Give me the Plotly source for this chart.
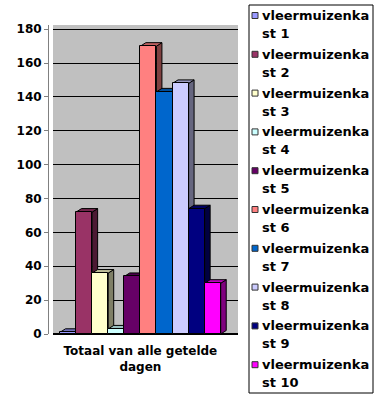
import plotly.graph_objects as go

categories = ["Totaal van alle getelde dagen"]
category_labels = ["Totaal van alle getelde<br>dagen"]
series_names = ["vleermuizenkast 1", "vleermuizenkast 2", "vleermuizenkast 3", "vleermuizenkast 4",
                "vleermuizenkast 5", "vleermuizenkast 6", "vleermuizenkast 7", "vleermuizenkast 8",
                "vleermuizenkast 9", "vleermuizenkast 10"]
legend_line1 = ["vleermuizenka"] * 10
legend_line2 = ["st 1", "st 2", "st 3", "st 4", "st 5", "st 6", "st 7", "st 8", "st 9", "st 10"]
values = [1, 72, 36, 3, 34, 170, 143, 148, 74, 30]
colors = ["#9999FF", "#993366", "#FFFFCC", "#CCFFFF", "#660066",
          "#FF8080", "#0066CC", "#CCCCFF", "#000080", "#FF00FF"]
y_ticks = [0, 20, 40, 60, 80, 100, 120, 140, 160, 180]

W, H = 385, 400
ML, MR, MT, MB = 48, 147, 25, 66
PW, PH = W - ML - MR, H - MT - MB
X_DOMAIN0 = 5 / PW
XR = [-0.5435, 0.6075]
YR = [0, 182.5]
FONT = "DejaVu Sans"


def darken(hex_color, f):
    r, g, b = (int(hex_color[i:i + 2], 16) for i in (1, 3, 5))
    return "rgb(%d,%d,%d)" % (int(r * f), int(g * f), int(b * f))


fig = go.Figure()
for name, v, c in zip(series_names, values, colors):
    fig.add_trace(go.Bar(
        x=categories, y=[v], name=name, marker=dict(color=c, line=dict(color="black", width=1)),
        showlegend=False,
    ))

# pseudo-3D depth faces derived from the bar values
xdom_px = PW * (1 - X_DOMAIN0)
ux = (XR[1] - XR[0]) / xdom_px  # data units per pixel (x)
uy = (YR[1] - YR[0]) / PH       # data units per pixel (y)
DX, DY = 5.5 * ux, 3.5 * uy
n = len(values)
bw = 1.0 / n
shapes = []
for i, (v, c) in enumerate(zip(values, colors)):
    x0 = -0.5 + i * bw
    x1 = x0 + bw
    side = "M %f,%f L %f,%f L %f,%f L %f,%f Z" % (x1, 0, x1 + DX, DY, x1 + DX, v + DY, x1, v)
    top = "M %f,%f L %f,%f L %f,%f L %f,%f Z" % (x0, v, x0 + DX, v + DY, x1 + DX, v + DY, x1, v)
    shapes.append(dict(type="path", path=side, xref="x", yref="y", fillcolor=darken(c, 0.5),
                       line=dict(color="black", width=1), layer="between"))
    shapes.append(dict(type="path", path=top, xref="x", yref="y", fillcolor=darken(c, 0.75),
                       line=dict(color="black", width=1), layer="between"))


# manual legend (pixel layout converted to paper coordinates)
def px_x(p):
    return (p - ML) / PW


def px_y(p):
    return (H - MB - p) / PH


LX0, LX1, LY0, LY1 = 249, 373, 5, 393
shapes.append(dict(type="rect", xref="paper", yref="paper", x0=px_x(LX0), x1=px_x(LX1),
                   y0=px_y(LY1), y1=px_y(LY0), line=dict(color="black", width=1),
                   fillcolor="white", layer="above"))
annotations = []
STEP = 38.8
for i, c in enumerate(colors):
    cy = 15.5 + STEP * i
    shapes.append(dict(type="rect", xref="paper", yref="paper", x0=px_x(252), x1=px_x(258),
                       y0=px_y(cy + 3), y1=px_y(cy - 3), fillcolor=c,
                       line=dict(color="#333333", width=1), layer="above"))
    annotations.append(dict(xref="paper", yref="paper", x=px_x(260), y=px_y(cy), text=legend_line1[i],
                            showarrow=False, xanchor="left", yanchor="middle",
                            font=dict(family=FONT, size=13, color="black", weight="bold")))
    annotations.append(dict(xref="paper", yref="paper", x=px_x(260), y=px_y(cy + 18), text=legend_line2[i],
                            showarrow=False, xanchor="left", yanchor="middle",
                            font=dict(family=FONT, size=13, color="black", weight="bold")))

fig.update_layout(
    width=W, height=H,
    margin=dict(l=ML, r=MR, t=MT, b=MB),
    paper_bgcolor="white", plot_bgcolor="#C0C0C0",
    barmode="group", bargap=0, bargroupgap=0,
    showlegend=False,
    shapes=shapes, annotations=annotations,
    font=dict(family=FONT, size=12, color="black", weight="bold"),
    xaxis=dict(domain=[X_DOMAIN0, 1], range=XR, tickmode="array", tickvals=categories,
               ticktext=category_labels, showgrid=False, showline=False, ticks="",
               ticklabelstandoff=8,
               tickfont=dict(family=FONT, size=12, color="black", weight="bold"), fixedrange=True),
    yaxis=dict(range=YR, anchor="free", position=0, tickvals=y_ticks, showgrid=True,
               gridcolor="black", gridwidth=1, showline=True, linecolor="#808080", linewidth=1,
               ticks="outside", ticklen=4, tickcolor="#808080", zeroline=True, zerolinecolor="black",
               tickfont=dict(family=FONT, size=12, color="black", weight="bold"), fixedrange=True),
)

fig.write_html("out.html", config={"displayModeBar": False},
               post_script="document.body.style.margin='0';document.body.style.padding='0';")
